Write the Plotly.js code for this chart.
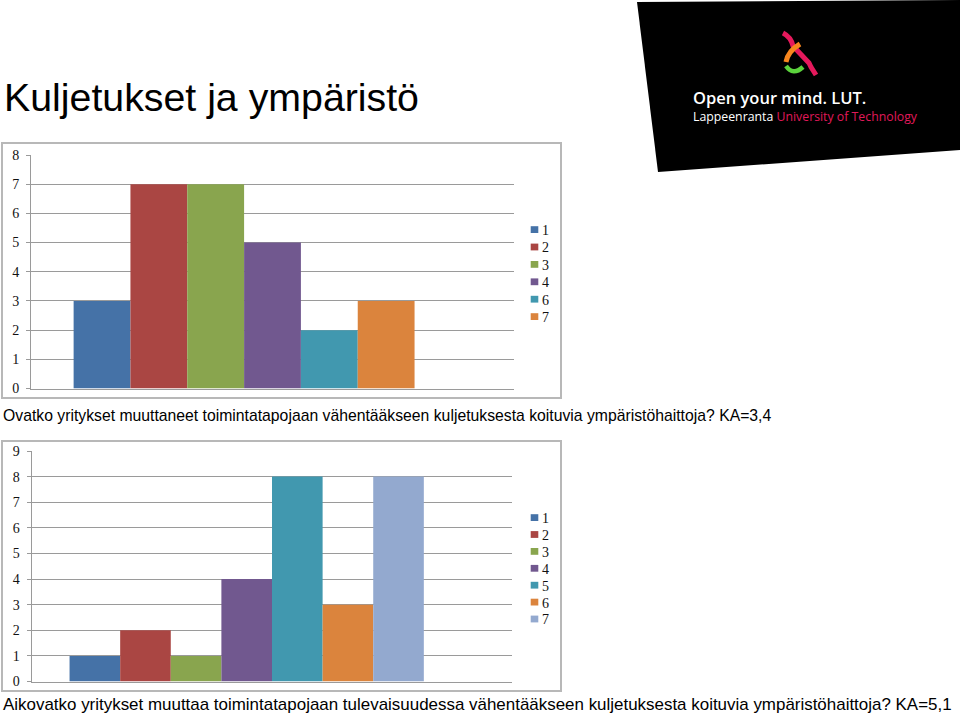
<!DOCTYPE html>
<html>
<head>
<meta charset="utf-8">
<script src="https://cdn.plot.ly/plotly-3.0.1.min.js"></script>
<style>
  html, body { margin: 0; padding: 0; background: #ffffff; }
  #chart { width: 960px; height: 715px; }
</style>
</head>
<body>
<div id="chart"></div>
<script>
// ---------- data ----------
const slideTitle = 'Kuljetukset ja ympäristö';
const caption1 = 'Ovatko yritykset muuttaneet toimintatapojaan vähentääkseen kuljetuksesta koituvia ympäristöhaittoja? KA=3,4';
const caption2 = 'Aikovatko yritykset muuttaa toimintatapojaan tulevaisuudessa vähentääkseen kuljetuksesta koituvia ympäristöhaittoja? KA=5,1';

const series1Names = ['1', '2', '3', '4', '6', '7'];
const series1Values = [3, 7, 7, 5, 2, 3];
const series2Names = ['1', '2', '3', '4', '5', '6', '7'];
const series2Values = [1, 2, 1, 4, 8, 3, 8];
const yTicks1 = [0, 1, 2, 3, 4, 5, 6, 7, 8];
const yTicks2 = [0, 1, 2, 3, 4, 5, 6, 7, 8, 9];

// ---------- styles ----------
const palette = ['#4572A7', '#AA4643', '#89A54E', '#71588F', '#4198AF', '#DB843D', '#93A9CF'];
const col1 = palette.slice(0, 6);
const col2 = palette.slice();

const W = 960, H = 715;
const px = x => x / W;
const py = y => 1 - y / H;

const BARGAP = 2.5 / 9.5;
function rangeFor(n, g) {
  const b = (1 - g) / n;
  const start = -n * b / 2 - 0.75 * b;
  return [start, start + (n + 2.5) * b];
}

const traces = [];
series1Names.forEach((nm, i) => {
  traces.push({
    type: 'bar', x: ['q'], y: [series1Values[i]], name: nm,
    marker: { color: col1[i], line: { width: 0 } },
    xaxis: 'x', yaxis: 'y', legend: 'legend', hoverinfo: 'name+y'
  });
});
series2Names.forEach((nm, i) => {
  traces.push({
    type: 'bar', x: ['q'], y: [series2Values[i]], name: nm,
    marker: { color: col2[i], line: { width: 0 } },
    xaxis: 'x2', yaxis: 'y2', legend: 'legend2', hoverinfo: 'name+y'
  });
});

const gridCol = '#9a9a9a';
const tickFont = { family: 'Liberation Serif, serif', size: 14, color: '#111111' };

function yAxis(domain, ticks, anchor) {
  return {
    domain: domain, anchor: anchor,
    range: [ticks[0], ticks[ticks.length - 1]],
    tickvals: ticks, ticktext: ticks.map(String),
    showgrid: true, gridcolor: gridCol, gridwidth: 1,
    zeroline: false, showline: true, linecolor: gridCol, linewidth: 1,
    ticks: 'outside', ticklen: 4, tickcolor: gridCol,
    tickfont: tickFont, ticklabelstandoff: 4, fixedrange: true
  };
}
function xAxis(domain, n, anchor) {
  return {
    domain: domain, anchor: anchor, type: 'category',
    range: rangeFor(n, BARGAP),
    showticklabels: false, ticks: '', showgrid: false, zeroline: false,
    showline: true, linecolor: gridCol, linewidth: 1, fixedrange: true
  };
}

const legendFont = { family: 'Liberation Serif, serif', size: 14, color: '#111111' };

const layout = {
  width: W, height: H,
  margin: { l: 0, r: 0, t: 0, b: 0 },
  paper_bgcolor: '#ffffff', plot_bgcolor: '#ffffff',
  barmode: 'group', bargap: BARGAP, bargroupgap: 0,
  showlegend: true,
  xaxis: xAxis([px(31), px(514)], series1Names.length, 'y'),
  yaxis: yAxis([py(388.5), py(155)], yTicks1, 'x'),
  xaxis2: xAxis([px(31.6), px(512.4)], series2Names.length, 'y2'),
  yaxis2: yAxis([py(681.5), py(451)], yTicks2, 'x2'),
  legend: {
    x: px(502), y: py(214), xanchor: 'left', yanchor: 'top',
    font: legendFont, bgcolor: 'rgba(0,0,0,0)', borderwidth: 0,
    traceorder: 'normal', itemclick: false, itemdoubleclick: false
  },
  legend2: {
    x: px(502), y: py(502), xanchor: 'left', yanchor: 'top',
    font: legendFont, bgcolor: 'rgba(0,0,0,0)', borderwidth: 0,
    traceorder: 'normal', itemclick: false, itemdoubleclick: false
  },
  shapes: [
    { type: 'rect', xref: 'paper', yref: 'paper', x0: px(2), x1: px(561), y0: py(398), y1: py(143),
      line: { color: '#b8b8b8', width: 2 }, fillcolor: 'rgba(0,0,0,0)', layer: 'below' },
    { type: 'rect', xref: 'paper', yref: 'paper', x0: px(2), x1: px(561), y0: py(691), y1: py(441),
      line: { color: '#b8b8b8', width: 2 }, fillcolor: 'rgba(0,0,0,0)', layer: 'below' },
    // logo panel
    { type: 'path', xref: 'paper', yref: 'paper',
      path: `M${px(637)},${py(2)} L${px(960)},${py(0)} L${px(960)},${py(150)} L${px(658)},${py(172)} Z`,
      fillcolor: '#000000', line: { width: 0 }, layer: 'above' },
    // ampersand: pink
    { type: 'path', xref: 'paper', yref: 'paper',
      path: `M${px(783)},${py(33)} Q${px(791)},${py(37)} ${px(793)},${py(46)} L${px(809)},${py(63)} L${px(811)},${py(67)} L${px(816)},${py(75)}`,
      line: { color: '#E5195C', width: 5 }, layer: 'above' },
    // ampersand: orange
    { type: 'path', xref: 'paper', yref: 'paper',
      path: `M${px(800)},${py(44)} Q${px(788)},${py(51)} ${px(786)},${py(62)}`,
      line: { color: '#F7861E', width: 5 }, layer: 'above' },
    // ampersand: green
    { type: 'path', xref: 'paper', yref: 'paper',
      path: `M${px(786)},${py(66)} Q${px(793)},${py(76)} ${px(803)},${py(67)}`,
      line: { color: '#5BD23C', width: 4.5 }, layer: 'above' }
  ],
  annotations: [
    { text: slideTitle, xref: 'paper', yref: 'paper', x: px(1.5), y: py(97), xanchor: 'left', yanchor: 'middle',
      showarrow: false, font: { family: 'Liberation Sans, Arial, sans-serif', size: 39.3, color: '#000000' } },
    { text: caption1, xref: 'paper', yref: 'paper', x: px(1), y: py(415), xanchor: 'left', yanchor: 'middle',
      showarrow: false, font: { family: 'Liberation Sans, Arial, sans-serif', size: 15.75, color: '#000000' } },
    { text: caption2, xref: 'paper', yref: 'paper', x: px(1), y: py(704), xanchor: 'left', yanchor: 'middle',
      showarrow: false, font: { family: 'Liberation Sans, Arial, sans-serif', size: 16.95, color: '#000000' } },
    { text: 'Open your mind. LUT.', xref: 'paper', yref: 'paper', x: px(691), y: py(97), xanchor: 'left', yanchor: 'middle',
      showarrow: false, font: { family: 'Open Sans, Noto Sans, sans-serif', size: 16.5, color: '#ffffff', weight: 600 } },
    { text: 'Lappeenranta <span style="color:#E0195A">University of Technology</span>', xref: 'paper', yref: 'paper',
      x: px(691), y: py(117), xanchor: 'left', yanchor: 'middle',
      showarrow: false, font: { family: 'Open Sans, Noto Sans, sans-serif', size: 12.3, color: '#ffffff' } }
  ]
};

// compact legend rows and small square keys, as in the original chart
function tweakLegend(cls, spacing) {
  const lg = document.querySelector('g.' + cls);
  if (!lg) return;
  const items = Array.from(lg.querySelectorAll('g.traces'));
  let y0 = null;
  items.forEach((it, i) => {
    const tr = it.getAttribute('transform') || '';
    const m = /translate\(\s*([-\d.eE]+)[ ,]\s*([-\d.eE]+)\s*\)/.exec(tr);
    if (!m) return;
    const x = parseFloat(m[1]), y = parseFloat(m[2]);
    if (y0 === null) y0 = y;
    it.setAttribute('transform', `translate(${x},${y0 + i * spacing})`);
  });
  lg.querySelectorAll('.legendpoints path').forEach(p => {
    p.setAttribute('d', 'M3.8,3.4H-3.8V-3.4H3.8Z');
    p.setAttribute('transform', 'translate(32.5,0)');
  });
}

Plotly.newPlot('chart', traces, layout, { staticPlot: true, displayModeBar: false }).then(() => {
  tweakLegend('legend', 17.4);
  tweakLegend('legend2', 16.9);
});
</script>
</body>
</html>
